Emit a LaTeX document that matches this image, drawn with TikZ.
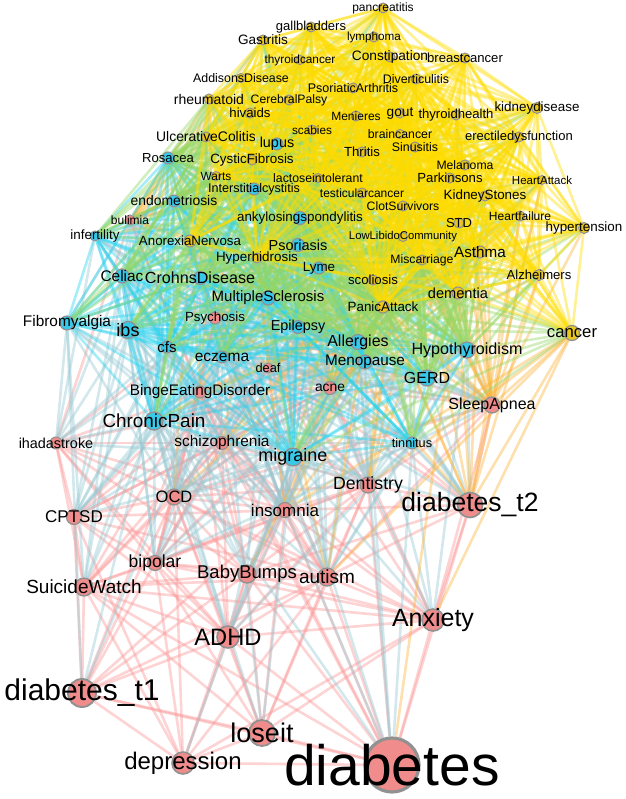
\documentclass[tikz,border=0pt]{standalone}
\usepackage{fontspec}
\setmainfont{Liberation Sans}
\usetikzlibrary{backgrounds}
\definecolor{nY}{RGB}{232,198,30}
\definecolor{nB}{RGB}{56,200,232}
\definecolor{nP}{RGB}{240,140,140}
\definecolor{nodeline}{RGB}{145,145,145}
\definecolor{cYY}{RGB}{255,220,0}
\definecolor{cBB}{RGB}{40,212,240}
\definecolor{cPP}{RGB}{250,150,150}
\definecolor{cYB}{RGB}{150,215,100}
\definecolor{cYP}{RGB}{250,180,60}
\definecolor{cBP}{RGB}{150,200,210}
\def\extY{0}\def\extB{22}\def\extP{5}
\tikzset{
  dot/.style={circle, draw=nodeline, inner sep=0pt},
  lab/.style={inner sep=0pt, text=black},
  lnk/.style={line width=2.6pt, draw opacity=0.42},
  eYY/.style={draw=cYY}, eBB/.style={draw=cBB}, ePP/.style={draw=cPP},
  eYB/.style={draw=cYB}, eBY/.style={draw=cYB},
  eYP/.style={draw=cYP}, ePY/.style={draw=cYP},
  eBP/.style={draw=cBP}, ePB/.style={draw=cBP},
}
\def\nodelist{%
bulimia/130/220/P/5/12/bulimia,
Psychosis/215/318/P/6/13.3/Psychosis,
deaf/268/368/P/5/12.8/deaf,
acne/330/388/P/6.5/13.8/acne,
BingeEatingDisorder/200/392/P/6/15.3/BingeEatingDisorder,
SleepApnea/492/405/P/8/16/SleepApnea,
ihadastroke/56/443/P/6/14.4/ihadastroke,
schizophrenia/222/443/P/6.5/15.4/schizophrenia,
Dentistry/368/485/P/8/17.7/Dentistry,
OCD/174/497/P/8/16.5/OCD,
insomnia/285/510/P/7.5/17/insomnia,
dttwo/470/505/P/12.5/26.5/diabetes\_t2,
CPTSD/74/517/P/7.5/17/CPTSD,
bipolar/155/563/P/7.5/17.5/bipolar,
BabyBumps/247/574/P/9/18.5/BabyBumps,
autism/327/577/P/9/19/autism,
SuicideWatch/84/587/P/9/19/SuicideWatch,
Anxiety/433/620/P/11/25/Anxiety,
ADHD/228/637/P/11/23.7/ADHD,
dtone/82/693/P/14/30/diabetes\_t1,
loseit/262/733/P/13/27/loseit,
depression/183/763/P/11/24/depression,
diabetes/392/765/P/27/57/diabetes,
lupus/277/144/B/6/14.4/lupus,
Rosacea/168/158/B/6/13.1/Rosacea,
Interstitialcystitis/254/189/B/6/12.6/Interstitialcystitis,
endometriosis/174/201/B/6/13.9/endometriosis,
ankylosingspondylitis/300/218/B/6.5/13.4/ankylosingspondylitis,
infertility/95/236/B/5/13.4/infertility,
Psoriasis/298/245/B/6.5/14.5/Psoriasis,
Lyme/319/268/B/6/13.4/Lyme,
Celiac/122/276/B/7/15.4/Celiac,
CrohnsDisease/200/278/B/6.5/16.1/CrohnsDisease,
MultipleSclerosis/268/298/B/7/15/MultipleSclerosis,
Fibromyalgia/67/323/B/7/15.4/Fibromyalgia,
Epilepsy/298/327/B/6.5/14.4/Epilepsy,
ibs/128/330/B/8.5/18/ibs,
Allergies/358/342/B/7.5/16/Allergies,
cfs/167/347/B/6/15/cfs,
Hypothyroidism/467/350/B/8/16.1/Hypothyroidism,
eczema/222/357/B/6/15.5/eczema,
Menopause/365/362/B/7/15.3/Menopause,
GERD/427/378/B/8/16/GERD,
ChronicPain/154/421/B/9/18.9/ChronicPain,
migraine/293/457/B/9/18/migraine,
tinnitus/412/443/B/6/12.7/tinnitus,
pancreatitis/383/8/Y/5/12/pancreatitis,
gallbladders/311/27/Y/5/13/gallbladders,
lymphoma/374/37/Y/5/11.7/lymphoma,
Gastritis/263/40/Y/5/13.6/Gastritis,
thyroidcancer/300/60/Y/4.5/11.8/thyroidcancer,
Constipation/390/57/Y/5/13.7/Constipation,
breastcancer/465/58/Y/5/13.1/breastcancer,
AddisonsDisease/241/78/Y/4.5/12.4/AddisonsDisease,
Diverticulitis/416/79/Y/5/12.4/Diverticulitis,
PsoriaticArthritis/353/88/Y/5/12.5/PsoriaticArthritis,
rheumatoid/209/99/Y/5/14/rheumatoid,
CerebralPalsy/289/100/Y/5/12.2/CerebralPalsy,
hivaids/250/113/Y/5/13.2/hivaids,
Menieres/356/116/Y/5/12/Menieres,
gout/400/113/Y/5/13.7/gout,
thyroidhealth/456/115/Y/5/13.1/thyroidhealth,
kidneydisease/537/108/Y/5.5/13.4/kidneydisease,
scabies/312/130/Y/5/11.8/scabies,
braincancer/400/134/Y/4.5/12.3/braincancer,
erectiledysfunction/519/137/Y/5/13/erectiledysfunction,
UlcerativeColitis/206/137/Y/5/13.9/UlcerativeColitis,
Sinusitis/415/147/Y/5/12.4/Sinusitis,
Thritis/362/152/Y/5/13.2/Thritis,
CysticFibrosis/252/160/Y/5/13.4/CysticFibrosis,
Melanoma/465/165/Y/5/12.2/Melanoma,
Warts/216/176/Y/4.5/11.9/Warts,
lactoseintolerant/318/178/Y/4.5/12.3/lactoseintolerant,
Parkinsons/450/178/Y/5/13.2/Parkinsons,
HeartAttack/542/180/Y/4.5/11.5/HeartAttack,
testicularcancer/362/193/Y/5/12/testicularcancer,
KidneyStones/485/196/Y/5/13.4/KidneyStones,
ClotSurvivors/403/206/Y/5/12.2/ClotSurvivors,
Heartfailure/520/216/Y/5/12/Heartfailure,
STD/459/223/Y/5/13/STD,
hypertension/584/228/Y/5.5/13.4/hypertension,
AnorexiaNervosa/190/241/Y/6/13.3/AnorexiaNervosa,
LowLibidoCommunity/403/237/Y/4.5/11.3/LowLibidoCommunity,
Asthma/480/252/Y/6/15.2/Asthma,
Hyperhidrosis/257/258/Y/5/13.4/Hyperhidrosis,
Miscarriage/422/260/Y/5/12.2/Miscarriage,
Alzheimers/539/275/Y/5.5/13.1/Alzheimers,
scoliosis/373/280/Y/5/13.2/scoliosis,
dementia/458/293/Y/6/14.6/dementia,
PanicAttack/383/307/Y/6/13.4/PanicAttack,
cancer/572/333/Y/7.5/16.7/cancer}
\begin{document}
\begin{tikzpicture}[x=1pt,y=-1pt]
\useasboundingbox (0,0) rectangle (625,799);
\pgfmathsetseed{7}
\foreach \n/\x/\y/\c/\r/\f/\t in \nodelist {
  \node[dot, fill=n\c, minimum size={2*\r*1pt}, line width={(0.5+0.1*\r)*1pt}] (\n) at (\x,\y) {};
}
\foreach \n/\x/\y/\c/\r/\f/\t in \nodelist {
  \node[lab, font=\fontsize{\f}{\f}\selectfont] (l\n) at (\x,\y) {\t};
}
\begin{pgfonlayer}{background}
\foreach \a/\xa/\ya/\ca/\ra/\fa/\ta [count=\i] in \nodelist {
  \foreach \b/\xb/\yb/\cb/\rb/\fb/\tb [count=\j] in \nodelist {
    \ifnum\j>\i
      \pgfmathsetmacro\edgeD{100*veclen((\xb-\xa)/100,(\yb-\ya)/100)}
      \pgfmathsetmacro\edgeT{(200+10*(\ra+\rb)+\csname ext\ca\endcsname+\csname ext\cb\endcsname)*(0.45+0.55*rnd)}
      \ifdim\edgeD pt<\edgeT pt
        \draw[lnk, e\ca\cb] (\a) -- (\b);
      \fi
    \fi
  }
}
\end{pgfonlayer}
\end{tikzpicture}
\end{document}
